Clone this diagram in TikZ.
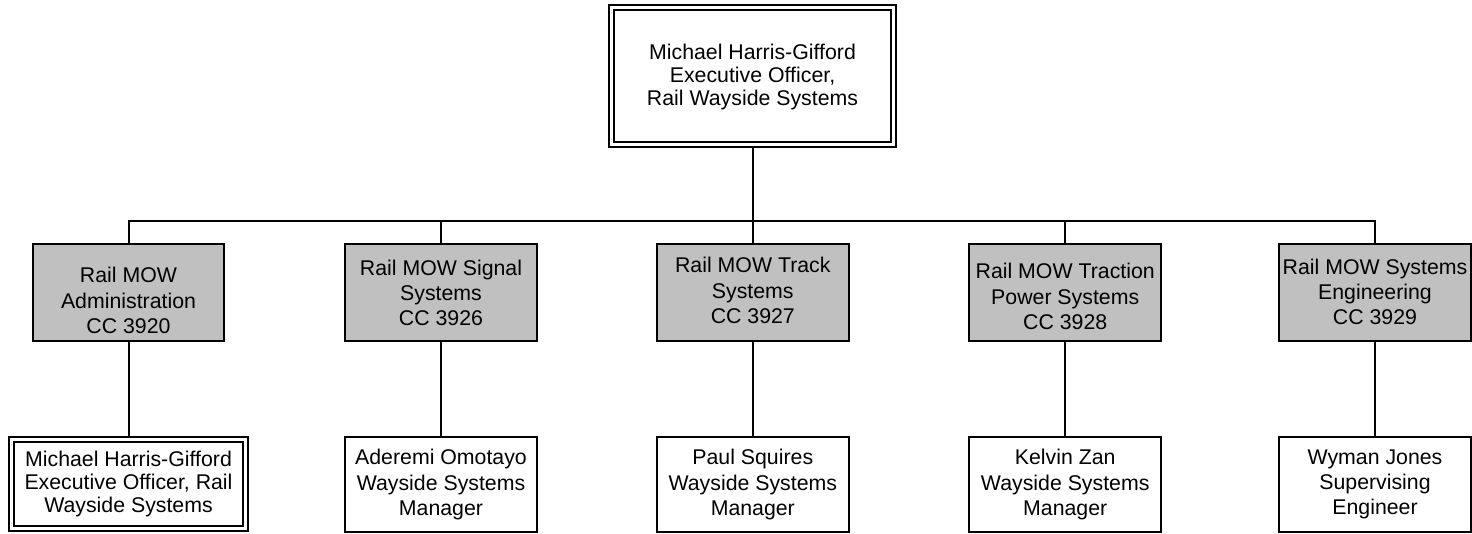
\documentclass[tikz,border=0pt]{standalone}
\usepackage{fontspec}
\setmainfont{Liberation Sans}
\usetikzlibrary{backgrounds}
\definecolor{boxgray}{HTML}{C0C0C0}
\begin{document}
\begin{tikzpicture}[x=1pt,y=-1pt,line width=2pt,
  txt/.style={align=center,inner sep=0pt,font=\fontsize{21.3}{25.3}\selectfont},
  tighttxt/.style={align=center,inner sep=0pt,font=\fontsize{21.3}{23}\selectfont},
  graybox/.style={draw,fill=boxgray,minimum width=191.7pt,minimum height=96.4pt,inner sep=0pt},
  whitebox/.style={draw,fill=white,minimum width=191.5pt,minimum height=94.7pt,inner sep=0pt},
  dblbox/.style={draw,double=white,double distance=3pt,line width=2pt,inner sep=0pt},
  conn/.style={draw,line width=2pt}]
\useasboundingbox (0,0) rectangle (1472,534);

% top box
\node[dblbox,minimum width=282.6pt,minimum height=137pt] (top) at (752.5,76.3) {};
\node[tighttxt] (toptxt) at (752.5,77.3) {Michael Harris-Gifford\\Executive Officer,\\Rail Wayside Systems};

% gray boxes
\node[graybox] (g1) at (128.5,292.5) {};
\node[graybox] (g2) at (441,292.5) {};
\node[graybox] (g3) at (752.8,292.5) {};
\node[graybox] (g4) at (1065.2,292.5) {};
\node[graybox] (g5) at (1375,292.5) {};
\node[txt] (g1t) at (128.5,300.5) {Rail MOW\\Administration\\CC 3920};
\node[txt] (g2t) at (441,293) {Rail MOW Signal\\Systems\\CC 3926};
\node[txt] (g3t) at (752.8,290.5) {Rail MOW Track\\Systems\\CC 3927};
\node[txt] (g4t) at (1065.2,296.5) {Rail MOW Traction\\Power Systems\\CC 3928};
\node[txt] (g5t) at (1375,292) {Rail MOW Systems\\Engineering\\CC 3929};

% bottom boxes
\node[dblbox,minimum width=234.6pt,minimum height=89pt] (w1) at (128.5,484) {};
\node[whitebox] (w2) at (441,484.3) {};
\node[whitebox] (w3) at (752.8,484.3) {};
\node[whitebox] (w4) at (1065.2,484.3) {};
\node[whitebox] (w5) at (1375,484.3) {};
\node[tighttxt] (w1t) at (128.5,483.5) {Michael Harris-Gifford\\Executive Officer, Rail\\Wayside Systems};
\node[txt] (w2t) at (441,484.5) {Aderemi Omotayo\\Wayside Systems\\Manager};
\node[txt] (w3t) at (752.8,484.5) {Paul Squires\\Wayside Systems\\Manager};
\node[txt] (w4t) at (1065.2,484.5) {Kelvin Zan\\Wayside Systems\\Manager};
\node[txt] (w5t) at (1375,484.5) {Wyman Jones\\Supervising\\Engineer};

\coordinate (bus) at (752.8,221);

\begin{scope}[on background layer]
\fill[white] (0,0) rectangle (1472,534);
\draw[conn] (top.south) -- (top.south |- bus);
\draw[conn] (g1.north) -- (g1.north |- bus) -- (g5.north |- bus) -- (g5.north);
\draw[conn] (g2.north) -- (g2.north |- bus);
\draw[conn] (g3.north) -- (g3.north |- bus);
\draw[conn] (g4.north) -- (g4.north |- bus);
\draw[conn] (g1.south) -- (w1.north);
\draw[conn] (g2.south) -- (w2.north);
\draw[conn] (g3.south) -- (w3.north);
\draw[conn] (g4.south) -- (w4.north);
\draw[conn] (g5.south) -- (w5.north);
\end{scope}
\end{tikzpicture}
\end{document}
